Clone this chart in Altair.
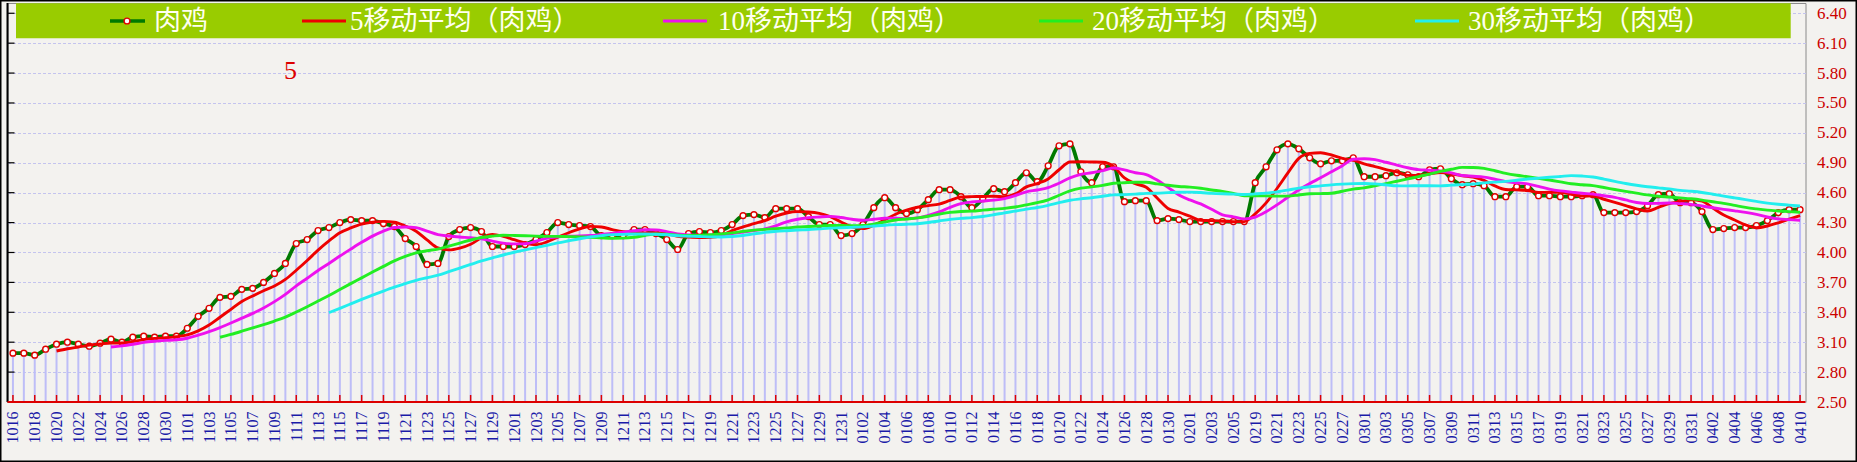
import altair as alt
import pandas as pd

# ---- categories (dates, MMDD) ----
oct_ = [f"10{d:02d}" for d in range(16, 32)]
nov_ = [f"11{d:02d}" for d in range(1, 31)]
dec_ = [f"12{d:02d}" for d in range(1, 32)]
jan_ = [f"01{d:02d}" for d in range(1, 32)]
feb_ = [f"02{d:02d}" for d in range(1, 6)] + ["0218"] + [f"02{d:02d}" for d in range(19, 29)]
mar_ = [f"03{d:02d}" for d in range(1, 32)]
apr_ = [f"04{d:02d}" for d in range(1, 11)]
dates = oct_ + nov_ + dec_ + jan_ + feb_ + mar_ + apr_

# ---- series values (肉鸡 price) ----
price = [
    2.99, 2.99, 2.97, 3.03, 3.08, 3.10, 3.08, 3.06, 3.09, 3.13, 3.10, 3.15,
    3.16, 3.15, 3.16, 3.16, 3.24, 3.36, 3.44, 3.55, 3.56, 3.63, 3.64, 3.70,
    3.79, 3.89, 4.09, 4.13, 4.22, 4.25, 4.30, 4.33, 4.32, 4.32, 4.29, 4.26,
    4.14, 4.06, 3.88, 3.89, 4.16, 4.23, 4.25, 4.21, 4.06, 4.06, 4.06, 4.08,
    4.13, 4.20, 4.30, 4.28, 4.27, 4.26, 4.17, 4.17, 4.17, 4.23, 4.23, 4.19,
    4.13, 4.03, 4.19, 4.21, 4.20, 4.22, 4.28, 4.37, 4.38, 4.35, 4.44, 4.44,
    4.44, 4.36, 4.28, 4.28, 4.17, 4.19, 4.28, 4.45, 4.55, 4.45, 4.39, 4.43,
    4.53, 4.63, 4.63, 4.56, 4.45, 4.54, 4.64, 4.61, 4.70, 4.80, 4.71, 4.87,
    5.07, 5.09, 4.81, 4.70, 4.86, 4.86, 4.51, 4.52, 4.52, 4.32, 4.34, 4.33,
    4.31, 4.31, 4.31, 4.31, 4.31, 4.31, 4.70, 4.86, 5.03, 5.09, 5.04,
    4.95, 4.89, 4.92, 4.92, 4.95, 4.76, 4.76, 4.77, 4.80, 4.78, 4.76, 4.83,
    4.84, 4.74, 4.68, 4.69, 4.67, 4.56, 4.56, 4.66, 4.66, 4.57, 4.57, 4.56, 4.56,
    4.57, 4.58, 4.40, 4.40, 4.40, 4.41, 4.47, 4.58, 4.59, 4.50, 4.50, 4.41,
    4.23, 4.24, 4.25, 4.25, 4.27, 4.32, 4.40, 4.43, 4.43,
]

# ---- tick labels / legend ----
y_ticks = [2.5, 2.8, 3.1, 3.4, 3.7, 4.0, 4.3, 4.6, 4.9, 5.2, 5.5, 5.8, 6.1, 6.4]
x_tick_labels = dates[::2]
legend_labels = ["肉鸡", "5移动平均（肉鸡）", "10移动平均（肉鸡）", "20移动平均（肉鸡）", "30移动平均（肉鸡）"]
ma_windows = [5, 10, 20, 30]
ma_colors = ["#ee0000", "#ee11ee", "#22ee22", "#22eeee"]
annotation = "5"

df = pd.DataFrame({"idx": list(range(len(dates))), "date": dates, "price": price})

W, H = 1798, 399
PAD_L, PAD_T = 7.5, 3

xscale = alt.Scale(type="point", padding=0.5)
xaxis = alt.Axis(values=x_tick_labels, labelAngle=270, labelColor="#1a1aa8",
                 labelFont="Liberation Serif", labelFontSize=16, ticks=False,
                 domain=False, labelPadding=9, title=None, grid=False,
                 labelOverlap=False)
yscale = alt.Scale(domain=[2.5, 6.503], nice=False, zero=False)
yaxis = alt.Axis(orient="right", values=y_ticks, format=".2f", labelColor="#cc0000",
                 labelFont="Liberation Serif", labelFontSize=17, ticks=False,
                 domain=False, labelPadding=11, gridColor="#c4c4ee",
                 gridDash=[3, 2], gridWidth=1, title=None)

X = alt.X("date:O", sort=dates, scale=xscale, axis=xaxis)

base = alt.Chart(df)

bars = base.mark_rule(color="#bdbdf7", strokeWidth=2).encode(
    x=X, y=alt.Y("price:Q", scale=yscale, axis=yaxis), y2=alt.datum(2.5))

pline = base.mark_line(color="#007a00", strokeWidth=3.8, interpolate="monotone").encode(
    x=X, y=alt.Y("price:Q", scale=yscale, axis=yaxis))

pts = base.mark_point(shape="circle", filled=True, fill="white", stroke="#e00000",
                      strokeWidth=1.4, size=34, opacity=1).encode(
    x=X, y=alt.Y("price:Q", scale=yscale, axis=yaxis))

ma_layers = []
for n, c in zip(ma_windows, ma_colors):
    ma_layers.append(
        base.transform_window(ma="mean(price)", cnt="count()", frame=[-(n - 1), 0],
                              sort=[alt.SortField("idx")])
        .transform_filter(alt.datum.cnt >= n)
        .mark_line(color=c, strokeWidth=2.9, interpolate="monotone")
        .encode(x=X, y=alt.Y("ma:Q", scale=yscale, axis=yaxis))
    )

# bottom red ticks at labelled dates
xticks = base.transform_filter("datum.idx % 2 == 0").mark_rule(
    color="#dd0000", strokeWidth=1.5).encode(x=X, y=alt.value(H - 7), y2=alt.value(H))

one = pd.DataFrame({"k": [0]})
yt = pd.DataFrame({"v": y_ticks})

left_ticks = alt.Chart(yt).mark_rule(color="black", strokeWidth=1.2).encode(
    y=alt.Y("v:Q", scale=yscale, axis=yaxis), x=alt.value(0), x2=alt.value(7))
left_spine = alt.Chart(one).mark_rule(color="black", strokeWidth=2).encode(
    x=alt.value(0), y=alt.value(0), y2=alt.value(H))
bottom_line = alt.Chart(one).mark_rule(color="#dd0000", strokeWidth=2).encode(
    x=alt.value(0), x2=alt.value(W), y=alt.value(H))

band = alt.Chart(one).mark_rect(color="#99cc00").encode(
    x=alt.value(16 - PAD_L), x2=alt.value(1790.7 - PAD_L),
    y=alt.value(3.3 - PAD_T), y2=alt.value(38.3 - PAD_T))

leg_line_x = [(110, 145), (302, 346), (663, 707), (1039, 1083), (1415, 1459)]
leg_text_x = [154, 350, 718, 1092, 1468]
leg_colors = ["#007a00"] + ma_colors
leg_y = 21 - PAD_T
legend_layers = []
for lab, (x1, x2), tx, c in zip(legend_labels, leg_line_x, leg_text_x, leg_colors):
    legend_layers.append(alt.Chart(one).mark_rule(color=c, strokeWidth=3.5 if lab == "肉鸡" else 2.8).encode(
        x=alt.value(x1 - PAD_L), x2=alt.value(x2 - PAD_L), y=alt.value(leg_y)))
    legend_layers.append(alt.Chart(one).mark_text(
        align="left", baseline="middle", color="#fffff0", fontSize=27,
        font="Liberation Serif, 'Noto Sans CJK SC'").encode(
        x=alt.value(tx - PAD_L), y=alt.value(leg_y + 1), text=alt.value(lab)))
legend_layers.append(alt.Chart(one).mark_point(shape="circle", filled=True, fill="white",
                                               stroke="#e00000", strokeWidth=1.4, size=34, opacity=1).encode(
    x=alt.value(127 - PAD_L), y=alt.value(leg_y)))

ann = alt.Chart(one).mark_text(align="center", baseline="middle", color="#dd0000",
                               fontSize=26, font="Liberation Serif").encode(
    x=alt.value(290.5 - PAD_L), y=alt.value(71 - PAD_T), text=alt.value(annotation))

frame = alt.Chart(one).mark_rect(filled=False, stroke="black", strokeWidth=1.5, fillOpacity=0).encode(
    x=alt.value(-PAD_L + 0.75), x2=alt.value(1857 - PAD_L - 0.75),
    y=alt.value(-PAD_T + 0.75), y2=alt.value(462 - PAD_T - 0.75))

chart = alt.layer(
    bars, pline, pts, *ma_layers, xticks, left_ticks, left_spine, bottom_line,
    band, *legend_layers, ann, frame
).properties(
    width=W, height=H, background="#f3f2ef",
    padding={"left": PAD_L, "top": PAD_T, "right": 1857 - PAD_L - W, "bottom": 462 - PAD_T - H},
    autosize=alt.AutoSizeParams(type="none"),
).configure_view(stroke="#8a8a8a", strokeWidth=1, fill="#f3f2ef")

chart.save("out.html", embed_options={"renderer": "svg", "actions": False})
